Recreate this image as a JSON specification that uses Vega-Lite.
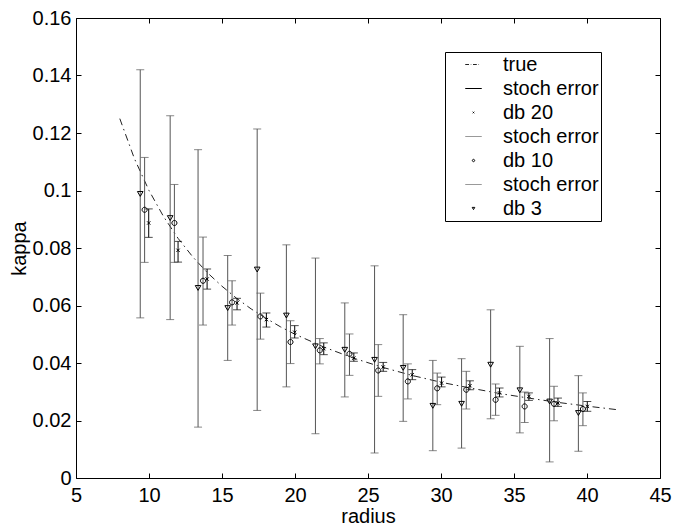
{
  "$schema": "https://vega.github.io/schema/vega-lite/v6.json",
  "width": 584,
  "height": 460,
  "autosize": {"type": "none"},
  "padding": {"left": 76, "top": 18, "right": 14, "bottom": 47},
  "background": "white",
  "datasets": {
    "truth": [
      {"r": 8, "k": 0.125}, {"r": 9, "k": 0.1111}, {"r": 10, "k": 0.1}, {"r": 11, "k": 0.0909},
      {"r": 12, "k": 0.0833}, {"r": 13, "k": 0.0769}, {"r": 14, "k": 0.0714}, {"r": 15, "k": 0.0667},
      {"r": 16, "k": 0.0625}, {"r": 17, "k": 0.0588}, {"r": 18, "k": 0.0556}, {"r": 19, "k": 0.0526},
      {"r": 20, "k": 0.05}, {"r": 22, "k": 0.0455}, {"r": 24, "k": 0.0417}, {"r": 26, "k": 0.0385},
      {"r": 28, "k": 0.0357}, {"r": 30, "k": 0.0333}, {"r": 32, "k": 0.0313}, {"r": 34, "k": 0.0294},
      {"r": 36, "k": 0.0278}, {"r": 38, "k": 0.0263}, {"r": 40, "k": 0.025}, {"r": 42, "k": 0.0238}
    ],
    "pts": [
      {"s": "db 20", "r": 9.98, "k": 0.0887, "lo": 0.0837, "hi": 0.0936},
      {"s": "db 20", "r": 11.99, "k": 0.0792, "lo": 0.0751, "hi": 0.0823},
      {"s": "db 20", "r": 13.98, "k": 0.0692, "lo": 0.0657, "hi": 0.0727},
      {"s": "db 20", "r": 16.03, "k": 0.0609, "lo": 0.0585, "hi": 0.0625},
      {"s": "db 20", "r": 18.04, "k": 0.0551, "lo": 0.0525, "hi": 0.0574},
      {"s": "db 20", "r": 19.98, "k": 0.0507, "lo": 0.0487, "hi": 0.053},
      {"s": "db 20", "r": 21.97, "k": 0.045, "lo": 0.0429, "hi": 0.047},
      {"s": "db 20", "r": 24.03, "k": 0.0417, "lo": 0.0406, "hi": 0.0435},
      {"s": "db 20", "r": 26.04, "k": 0.0386, "lo": 0.0371, "hi": 0.0402},
      {"s": "db 20", "r": 28.03, "k": 0.0359, "lo": 0.0342, "hi": 0.0377},
      {"s": "db 20", "r": 30.04, "k": 0.033, "lo": 0.0317, "hi": 0.0351},
      {"s": "db 20", "r": 31.98, "k": 0.0321, "lo": 0.0307, "hi": 0.0338},
      {"s": "db 20", "r": 34.01, "k": 0.0296, "lo": 0.0282, "hi": 0.0313},
      {"s": "db 20", "r": 36.02, "k": 0.0284, "lo": 0.027, "hi": 0.0296},
      {"s": "db 20", "r": 38.01, "k": 0.0261, "lo": 0.0249, "hi": 0.0278},
      {"s": "db 20", "r": 40.02, "k": 0.0249, "lo": 0.0232, "hi": 0.0266},
      {"s": "db 10", "r": 9.7, "k": 0.0933, "lo": 0.075, "hi": 0.1115},
      {"s": "db 10", "r": 11.74, "k": 0.0887, "lo": 0.075, "hi": 0.1021},
      {"s": "db 10", "r": 13.7, "k": 0.0686, "lo": 0.0532, "hi": 0.0838},
      {"s": "db 10", "r": 15.69, "k": 0.0611, "lo": 0.0532, "hi": 0.0686},
      {"s": "db 10", "r": 17.63, "k": 0.0562, "lo": 0.0483, "hi": 0.0643},
      {"s": "db 10", "r": 19.69, "k": 0.0473, "lo": 0.0398, "hi": 0.0547},
      {"s": "db 10", "r": 21.7, "k": 0.0444, "lo": 0.0397, "hi": 0.0485},
      {"s": "db 10", "r": 23.73, "k": 0.0432, "lo": 0.0357, "hi": 0.0501},
      {"s": "db 10", "r": 25.7, "k": 0.0374, "lo": 0.0284, "hi": 0.0464},
      {"s": "db 10", "r": 27.73, "k": 0.0336, "lo": 0.0275, "hi": 0.0397},
      {"s": "db 10", "r": 29.74, "k": 0.0312, "lo": 0.0255, "hi": 0.0365},
      {"s": "db 10", "r": 31.73, "k": 0.0307, "lo": 0.024, "hi": 0.0371},
      {"s": "db 10", "r": 33.74, "k": 0.0272, "lo": 0.0218, "hi": 0.0327},
      {"s": "db 10", "r": 35.73, "k": 0.0249, "lo": 0.0193, "hi": 0.0299},
      {"s": "db 10", "r": 37.74, "k": 0.0258, "lo": 0.0199, "hi": 0.0319},
      {"s": "db 10", "r": 39.72, "k": 0.024, "lo": 0.0182, "hi": 0.0296},
      {"s": "db 3", "r": 9.4, "k": 0.0988, "lo": 0.0557, "hi": 0.142},
      {"s": "db 3", "r": 11.45, "k": 0.0904, "lo": 0.0551, "hi": 0.126},
      {"s": "db 3", "r": 13.36, "k": 0.0661, "lo": 0.0177, "hi": 0.1142},
      {"s": "db 3", "r": 15.39, "k": 0.0591, "lo": 0.0409, "hi": 0.0774},
      {"s": "db 3", "r": 17.41, "k": 0.0725, "lo": 0.0235, "hi": 0.1214},
      {"s": "db 3", "r": 19.41, "k": 0.0565, "lo": 0.0317, "hi": 0.0811},
      {"s": "db 3", "r": 21.4, "k": 0.0458, "lo": 0.0154, "hi": 0.0765},
      {"s": "db 3", "r": 23.41, "k": 0.0446, "lo": 0.0282, "hi": 0.0609},
      {"s": "db 3", "r": 25.45, "k": 0.0411, "lo": 0.0087, "hi": 0.0738},
      {"s": "db 3", "r": 27.41, "k": 0.0383, "lo": 0.0197, "hi": 0.0568},
      {"s": "db 3", "r": 29.44, "k": 0.0251, "lo": 0.0095, "hi": 0.0409},
      {"s": "db 3", "r": 31.41, "k": 0.0258, "lo": 0.0104, "hi": 0.0415},
      {"s": "db 3", "r": 33.4, "k": 0.0394, "lo": 0.0206, "hi": 0.0585},
      {"s": "db 3", "r": 35.4, "k": 0.0305, "lo": 0.0157, "hi": 0.0458},
      {"s": "db 3", "r": 37.44, "k": 0.0266, "lo": 0.0056, "hi": 0.0485},
      {"s": "db 3", "r": 39.41, "k": 0.0226, "lo": 0.0093, "hi": 0.0356}
    ]
  },
  "layer": [
    {
      "data": {"name": "truth"},
      "mark": {"type": "line", "color": "#222", "strokeWidth": 1, "strokeDash": [7, 4, 1.5, 4]},
      "encoding": {
        "x": {"field": "r", "type": "quantitative", "scale": {"domain": [5, 45], "nice": false, "zero": false},
          "axis": {"orient": "top", "values": [5, 10, 15, 20, 25, 30, 35, 40, 45], "labels": false, "title": null, "tickSize": -5}},
        "y": {"field": "k", "type": "quantitative", "scale": {"domain": [0, 0.16], "nice": false},
          "axis": {"orient": "right", "values": [0, 0.02, 0.04, 0.06, 0.08, 0.1, 0.12, 0.14, 0.16], "labels": false, "title": null, "tickSize": -5}}
      }
    },
    {
      "data": {"name": "pts"},
      "transform": [{"filter": "datum.s === 'db 20'"}],
      "mark": {"type": "errorbar", "ticks": true, "size": 8, "thickness": 1, "color": "#000"},
      "encoding": {
        "x": {"field": "r", "type": "quantitative", "scale": {"domain": [5, 45], "nice": false, "zero": false}, "axis": null},
        "y": {"field": "lo", "type": "quantitative", "scale": {"domain": [0, 0.16], "nice": false}, "axis": null},
        "y2": {"field": "hi"}
      }
    },
    {
      "data": {"name": "pts"},
      "transform": [{"filter": "datum.s === 'db 10'"}],
      "mark": {"type": "errorbar", "ticks": true, "size": 8, "thickness": 1, "color": "#555"},
      "encoding": {
        "x": {"field": "r", "type": "quantitative", "scale": {"domain": [5, 45], "nice": false, "zero": false}, "axis": null},
        "y": {"field": "lo", "type": "quantitative", "scale": {"domain": [0, 0.16], "nice": false}, "axis": null},
        "y2": {"field": "hi"}
      }
    },
    {
      "data": {"name": "pts"},
      "transform": [{"filter": "datum.s === 'db 3'"}],
      "mark": {"type": "errorbar", "ticks": true, "size": 8, "thickness": 1, "color": "#555"},
      "encoding": {
        "x": {"field": "r", "type": "quantitative", "scale": {"domain": [5, 45], "nice": false, "zero": false}, "axis": null},
        "y": {"field": "lo", "type": "quantitative", "scale": {"domain": [0, 0.16], "nice": false}, "axis": null},
        "y2": {"field": "hi"}
      }
    },
    {
      "data": {"name": "pts"},
      "mark": {"type": "point", "filled": false, "size": 2600, "strokeWidth": 1, "opacity": 1},
      "encoding": {
        "x": {"field": "r", "type": "quantitative", "scale": {"domain": [5, 45], "nice": false, "zero": false},
          "axis": {"orient": "bottom", "values": [5, 10, 15, 20, 25, 30, 35, 40, 45], "title": "radius", "tickSize": -5, "labelPadding": 12.5, "titleY": 44, "titleBaseline": "alphabetic", "labelFlush": false, "labelOverlap": false}},
        "y": {"field": "k", "type": "quantitative", "scale": {"domain": [0, 0.16], "nice": false},
          "axis": {"orient": "left", "values": [0, 0.02, 0.04, 0.06, 0.08, 0.1, 0.12, 0.14, 0.16], "format": ".2~f", "title": "kappa", "tickSize": -5, "labelPadding": 10, "titlePadding": 3, "labelFlush": false, "labelOverlap": false}},
        "shape": {
          "field": "s", "type": "nominal",
          "scale": {
            "domain": ["true", "stoch error 20", "db 20", "stoch error 10", "db 10", "stoch error 3", "db 3"],
            "range": [
              "M-0.7,0L-0.38,0M-0.23,0L-0.19,0M-0.04,0L0.28,0M0.43,0L0.47,0",
              "M-0.7,0L0.7,0",
              "M-0.065,-0.065L0.065,0.065M-0.065,0.065L0.065,-0.065",
              "M-0.7,0L0.7,0",
              "M0.1,0L0.0924,0.0383L0.0707,0.0707L0.0383,0.0924L0,0.1L-0.0383,0.0924L-0.0707,0.0707L-0.0924,0.0383L-0.1,0L-0.0924,-0.0383L-0.0707,-0.0707L-0.0383,-0.0924L0,-0.1L0.0383,-0.0924L0.0707,-0.0707L0.0924,-0.0383Z",
              "M-0.7,0L0.7,0",
              "M-0.11,-0.095L0.11,-0.095L0,0.095Z"
            ]
          },
          "legend": {
            "orient": "none", "legendX": 369, "legendY": 34, "title": null,
            "labelExpr": "indexof(datum.label, 'stoch') == 0 ? 'stoch error' : datum.label",
            "symbolSize": 556, "clipHeight": 21, "rowPadding": 3, "padding": 2,
            "symbolOffset": 14, "labelOffset": 17, "strokeColor": "#000", "fillColor": "#fff",
            "labelFontSize": 20, "labelFont": "Liberation Sans", "labelColor": "#000", "symbolStrokeWidth": 1
          }
        },
        "color": {
          "field": "s", "type": "nominal",
          "scale": {
            "domain": ["true", "stoch error 20", "db 20", "stoch error 10", "db 10", "stoch error 3", "db 3"],
            "range": ["#222", "#000", "#000", "#999", "#000", "#999", "#000"]
          },
          "legend": {
            "orient": "none", "legendX": 369, "legendY": 34, "title": null,
            "labelExpr": "indexof(datum.label, 'stoch') == 0 ? 'stoch error' : datum.label",
            "symbolSize": 556, "clipHeight": 21, "rowPadding": 3, "padding": 2,
            "symbolOffset": 14, "labelOffset": 17, "strokeColor": "#000", "fillColor": "#fff",
            "labelFontSize": 20, "labelFont": "Liberation Sans", "labelColor": "#000", "symbolStrokeWidth": 1
          }
        }
      }
    }
  ],
  "resolve": {"axis": {"x": "independent", "y": "independent"}},
  "config": {
    "view": {"stroke": null},
    "axis": {
      "grid": false, "domainColor": "#000", "tickColor": "#000", "labelColor": "#000", "titleColor": "#000",
      "labelFont": "Liberation Sans", "titleFont": "Liberation Sans", "labelFontSize": 20, "titleFontSize": 20,
      "titleFontWeight": "normal", "domainWidth": 1, "tickWidth": 1
    }
  }
}
